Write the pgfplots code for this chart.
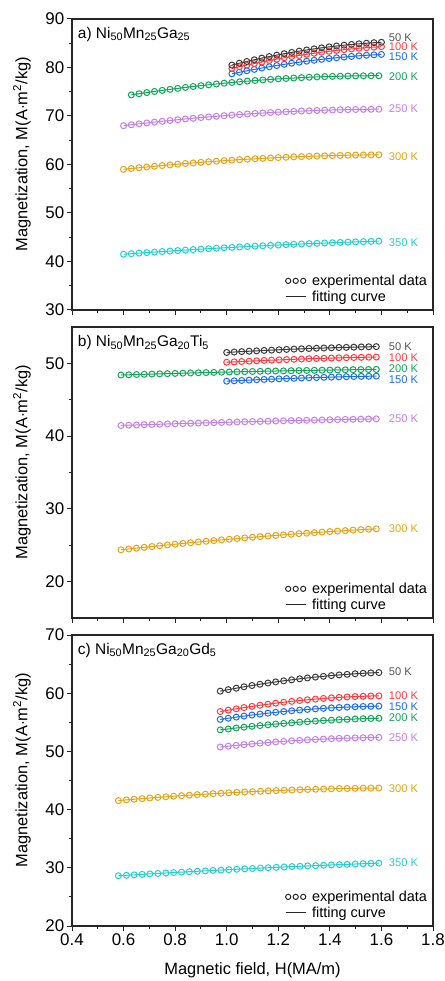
\documentclass[border=0pt]{standalone}
\usepackage{fontspec}
\setmainfont{Liberation Sans}
\usepackage{pgfplots}
\usepackage{pgfplotstable}
\pgfplotsset{compat=1.18}

\definecolor{c50}{HTML}{3C3C3C}
\definecolor{c100}{HTML}{FF3C3C}
\definecolor{c150}{HTML}{1C6FE0}
\definecolor{c200}{HTML}{12A65A}
\definecolor{c250}{HTML}{C57FE8}
\definecolor{c300}{HTML}{E5A416}
\definecolor{c350}{HTML}{26CFCF}
\definecolor{t50}{HTML}{555555}

\pgfplotstableread{
x m200 m250 m300 m350
0.60 nan 68.00 59.00 41.50
0.63 74.35 68.19 59.17 41.61
0.66 74.59 68.38 59.33 41.73
0.69 74.83 68.56 59.48 41.83
0.72 75.06 68.74 59.64 41.94
0.75 75.28 68.91 59.78 42.05
0.78 75.49 69.07 59.92 42.15
0.81 75.69 69.23 60.06 42.25
0.84 75.89 69.39 60.20 42.35
0.87 76.08 69.53 60.32 42.45
0.90 76.26 69.68 60.45 42.55
0.93 76.43 69.81 60.57 42.64
0.96 76.60 69.94 60.68 42.73
0.99 76.76 70.07 60.79 42.82
1.02 76.91 70.19 60.90 42.91
1.05 77.05 70.30 61.00 43.00
1.08 77.19 70.41 61.09 43.08
1.11 77.31 70.52 61.18 43.16
1.14 77.43 70.61 61.27 43.24
1.17 77.54 70.71 61.35 43.32
1.20 77.65 70.79 61.43 43.39
1.23 77.74 70.87 61.50 43.47
1.26 77.83 70.95 61.57 43.54
1.29 77.91 71.02 61.63 43.61
1.32 77.99 71.08 61.69 43.68
1.35 78.05 71.14 61.74 43.74
1.38 78.11 71.19 61.79 43.81
1.41 78.16 71.24 61.83 43.87
1.44 78.20 71.28 61.87 43.93
1.47 78.24 71.31 61.91 43.99
1.50 78.27 71.34 61.94 44.04
1.53 78.28 71.37 61.96 44.10
1.56 78.30 71.39 61.98 44.15
1.59 78.30 71.40 62.00 44.20
}\tabAlong

\pgfplotstableread{
x m50 m100 m150
1.020 80.50 79.80 78.70
1.049 80.88 80.15 79.01
1.078 81.24 80.49 79.32
1.107 81.59 80.82 79.61
1.136 81.93 81.13 79.88
1.165 82.25 81.43 80.15
1.194 82.55 81.72 80.40
1.223 82.84 81.99 80.65
1.252 83.11 82.25 80.88
1.281 83.37 82.49 81.09
1.310 83.61 82.73 81.30
1.339 83.84 82.94 81.49
1.368 84.05 83.15 81.68
1.397 84.25 83.34 81.85
1.426 84.43 83.52 82.00
1.455 84.60 83.68 82.15
1.484 84.75 83.83 82.28
1.513 84.88 83.97 82.41
1.542 85.00 84.09 82.52
1.571 85.11 84.20 82.61
1.600 85.20 84.30 82.70
}\tabAshort

\pgfplotstableread{
x m200 m250 m300
0.59 48.40 41.46 24.37
0.62 48.43 41.50 24.49
0.65 48.47 41.53 24.60
0.68 48.50 41.57 24.71
0.71 48.53 41.60 24.82
0.74 48.56 41.63 24.93
0.77 48.59 41.67 25.04
0.80 48.62 41.70 25.14
0.83 48.65 41.73 25.25
0.86 48.68 41.76 25.35
0.89 48.71 41.79 25.45
0.92 48.73 41.82 25.55
0.95 48.76 41.85 25.64
0.98 48.79 41.88 25.74
1.01 48.81 41.91 25.83
1.04 48.84 41.94 25.92
1.07 48.86 41.97 26.01
1.10 48.88 42.00 26.10
1.13 48.91 42.02 26.18
1.16 48.93 42.05 26.27
1.19 48.95 42.08 26.35
1.22 48.97 42.10 26.43
1.25 48.99 42.13 26.51
1.28 49.01 42.15 26.59
1.31 49.03 42.18 26.66
1.34 49.05 42.20 26.73
1.37 49.06 42.22 26.81
1.40 49.08 42.25 26.88
1.43 49.10 42.27 26.94
1.46 49.11 42.29 27.01
1.49 49.13 42.31 27.08
1.52 49.14 42.33 27.14
1.55 49.16 42.35 27.20
1.58 49.17 42.37 27.26
}\tabBlong

\pgfplotstableread{
x m50 m100 m150
1.000 51.50 50.15 47.55
1.029 51.56 50.20 47.60
1.058 51.62 50.25 47.65
1.087 51.67 50.30 47.70
1.116 51.72 50.35 47.75
1.145 51.78 50.40 47.79
1.174 51.82 50.44 47.83
1.203 51.87 50.48 47.87
1.232 51.92 50.52 47.91
1.261 51.96 50.56 47.95
1.290 52.00 50.60 47.99
1.319 52.04 50.64 48.02
1.348 52.08 50.67 48.05
1.377 52.11 50.70 48.08
1.406 52.14 50.73 48.11
1.435 52.18 50.76 48.14
1.464 52.20 50.78 48.17
1.493 52.23 50.81 48.19
1.522 52.26 50.83 48.21
1.551 52.28 50.85 48.23
1.580 52.30 50.87 48.25
}\tabBshort

\pgfplotstableread{
x m300 m350
0.580 41.55 28.63
0.611 41.67 28.71
0.641 41.78 28.79
0.672 41.89 28.87
0.702 42.00 28.95
0.733 42.10 29.03
0.764 42.20 29.11
0.794 42.30 29.18
0.825 42.39 29.26
0.855 42.48 29.33
0.886 42.57 29.40
0.917 42.65 29.47
0.947 42.74 29.55
0.978 42.81 29.61
1.008 42.89 29.68
1.039 42.96 29.75
1.070 43.03 29.82
1.100 43.09 29.88
1.131 43.16 29.95
1.161 43.22 30.01
1.192 43.27 30.08
1.223 43.32 30.14
1.253 43.37 30.20
1.284 43.42 30.26
1.314 43.46 30.32
1.345 43.50 30.37
1.376 43.54 30.43
1.406 43.57 30.49
1.437 43.61 30.54
1.467 43.63 30.59
1.498 43.66 30.65
1.529 43.68 30.70
1.559 43.70 30.75
1.590 43.71 30.80
}\tabClong

\pgfplotstableread{
x m50 m100 m150 m200 m250
0.975 60.35 56.85 55.50 53.70 50.75
1.006 60.61 57.09 55.70 53.86 50.90
1.037 60.86 57.31 55.89 54.02 51.03
1.067 61.10 57.53 56.07 54.17 51.17
1.098 61.32 57.74 56.25 54.31 51.29
1.129 61.54 57.93 56.41 54.44 51.41
1.160 61.75 58.11 56.57 54.57 51.52
1.190 61.94 58.29 56.71 54.70 51.63
1.221 62.13 58.45 56.85 54.81 51.73
1.252 62.30 58.60 56.98 54.92 51.82
1.283 62.47 58.74 57.10 55.03 51.91
1.313 62.62 58.87 57.21 55.12 51.98
1.344 62.77 58.99 57.31 55.21 52.06
1.375 62.90 59.10 57.40 55.30 52.12
1.406 63.03 59.19 57.48 55.37 52.18
1.436 63.14 59.28 57.55 55.44 52.24
1.467 63.24 59.36 57.62 55.51 52.28
1.498 63.34 59.42 57.67 55.57 52.32
1.529 63.42 59.47 57.72 55.62 52.35
1.559 63.49 59.52 57.75 55.66 52.38
1.590 63.55 59.55 57.78 55.70 52.40
}\tabCshort

\newcommand{\lab}{\fontsize{11.2}{12}\selectfont}

\pgfplotsset{
  panel/.style={
    width=361bp, height=291bp, scale only axis,
    xmin=0.4, xmax=1.8,
    xtick={0.4,0.6,0.8,1.0,1.2,1.4,1.6,1.8},
    minor x tick num=1, minor y tick num=1,
    tick align=outside, tick pos=left,
    major tick length=5bp, minor tick length=3bp,
    every tick/.style={black!85, line width=1bp},
    axis line style={line width=1.2bp, black!85},
    /pgf/number format/assume math mode=true,
    ticklabel style={font=\fontsize{17}{19}\selectfont, inner sep=2.5bp},
    label style={font=\fontsize{16.5}{19}\selectfont},
    ylabel={Magnetization, M(A$\cdot$m\textsuperscript{2}/kg)},
    ylabel style={at={(axis description cs:-0.139,0.535)}, anchor=center},
    clip=false,
  },
  ser/.style={line width=1bp, mark=o, mark size=3bp, mark options={line width=1bp, solid}},
  leg/.style={legend style={draw=none, fill=none, at={(rel axis cs:0.587,0.012)}, anchor=south west,
    font=\fontsize{14.5}{15}\selectfont, row sep=-1bp, inner sep=1bp,
    nodes={inner sep=2.5bp}},
    legend cell align=left},
}

\newcommand{\addleg}{%
  \addlegendimage{legend image code/.code={\draw[black!85,line width=1bp] (2.8bp,0) circle[radius=2.6bp] (10.3bp,0) circle[radius=2.6bp] (17.8bp,0) circle[radius=2.6bp]; \path (24bp,0);}}
  \addlegendentry{experimental data}
  \addlegendimage{legend image code/.code={\draw[black!85,line width=1bp] (0.3bp,0) -- (21bp,0); \path (24bp,0);}}
  \addlegendentry{fitting curve}
}

\begin{document}
\begin{tikzpicture}
\path[use as bounding box] (0,0) rectangle (445bp,981bp);

% Panel a
\begin{axis}[panel, leg, at={(72bp,671bp)}, anchor=south west,
  ymin=30, ymax=90, ytick={30,40,50,60,70,80,90}, xticklabels={}]
\addleg
\addplot[ser, c200, forget plot] table[x=x,y=m200]{\tabAlong};
\addplot[ser, c250, forget plot] table[x=x,y=m250]{\tabAlong};
\addplot[ser, c300, forget plot] table[x=x,y=m300]{\tabAlong};
\addplot[ser, c350, forget plot] table[x=x,y=m350]{\tabAlong};
\addplot[ser, c150, forget plot] table[x=x,y=m150]{\tabAshort};
\addplot[ser, c100, forget plot] table[x=x,y=m100]{\tabAshort};
\addplot[ser, c50, forget plot] table[x=x,y=m50]{\tabAshort};
\node[anchor=west, inner sep=0, font=\fontsize{15.5}{16}\selectfont] at (rel axis cs:0.016,0.948) {a) Ni\textsubscript{50}Mn\textsubscript{25}Ga\textsubscript{25}};
\node[anchor=west, inner sep=0, text=t50, font=\lab] at (axis cs:1.628,86.2) {50 K};
\node[anchor=west, inner sep=0, text=c100, font=\lab] at (axis cs:1.628,84.2) {100 K};
\node[anchor=west, inner sep=0, text=c150, font=\lab] at (axis cs:1.628,82.2) {150 K};
\node[anchor=west, inner sep=0, text=c200, font=\lab] at (axis cs:1.628,78.2) {200 K};
\node[anchor=west, inner sep=0, text=c250, font=\lab] at (axis cs:1.628,71.5) {250 K};
\node[anchor=west, inner sep=0, text=c300, font=\lab] at (axis cs:1.628,61.6) {300 K};
\node[anchor=west, inner sep=0, text=c350, font=\lab] at (axis cs:1.628,43.8) {350 K};
\end{axis}

% Panel b
\begin{axis}[panel, leg, at={(72bp,363bp)}, anchor=south west,
  ymin=15, ymax=55, ytick={20,30,40,50}, xticklabels={}]
\addleg
\addplot[ser, c200, forget plot] table[x=x,y=m200]{\tabBlong};
\addplot[ser, c250, forget plot] table[x=x,y=m250]{\tabBlong};
\addplot[ser, c300, forget plot] table[x=x,y=m300]{\tabBlong};
\addplot[ser, c150, forget plot] table[x=x,y=m150]{\tabBshort};
\addplot[ser, c100, forget plot] table[x=x,y=m100]{\tabBshort};
\addplot[ser, c50, forget plot] table[x=x,y=m50]{\tabBshort};
\node[anchor=west, inner sep=0, font=\fontsize{15.5}{16}\selectfont] at (rel axis cs:0.016,0.945) {b) Ni\textsubscript{50}Mn\textsubscript{25}Ga\textsubscript{20}Ti\textsubscript{5}};
\node[anchor=west, inner sep=0, text=t50, font=\lab] at (axis cs:1.628,52.3) {50 K};
\node[anchor=west, inner sep=0, text=c100, font=\lab] at (axis cs:1.628,50.8) {100 K};
\node[anchor=west, inner sep=0, text=c200, font=\lab] at (axis cs:1.628,49.3) {200 K};
\node[anchor=west, inner sep=0, text=c150, font=\lab] at (axis cs:1.628,47.8) {150 K};
\node[anchor=west, inner sep=0, text=c250, font=\lab] at (axis cs:1.628,42.4) {250 K};
\node[anchor=west, inner sep=0, text=c300, font=\lab] at (axis cs:1.628,27.3) {300 K};
\end{axis}

% Panel c
\begin{axis}[panel, leg, at={(72bp,55bp)}, anchor=south west,
  ymin=20, ymax=70, ytick={20,30,40,50,60,70},
  xticklabel style={/pgf/number format/.cd, fixed, fixed zerofill, precision=1},
  xlabel={Magnetic field, H(MA/m)},
  xlabel style={at={(axis description cs:0.5,-0.151)}, anchor=center}]
\addleg
\addplot[ser, c300, forget plot] table[x=x,y=m300]{\tabClong};
\addplot[ser, c350, forget plot] table[x=x,y=m350]{\tabClong};
\addplot[ser, c250, forget plot] table[x=x,y=m250]{\tabCshort};
\addplot[ser, c200, forget plot] table[x=x,y=m200]{\tabCshort};
\addplot[ser, c150, forget plot] table[x=x,y=m150]{\tabCshort};
\addplot[ser, c100, forget plot] table[x=x,y=m100]{\tabCshort};
\addplot[ser, c50, forget plot] table[x=x,y=m50]{\tabCshort};
\node[anchor=west, inner sep=0, font=\fontsize{15.5}{16}\selectfont] at (rel axis cs:0.016,0.948) {c) Ni\textsubscript{50}Mn\textsubscript{25}Ga\textsubscript{20}Gd\textsubscript{5}};
\node[anchor=west, inner sep=0, text=t50, font=\lab] at (axis cs:1.628,63.66) {50 K};
\node[anchor=west, inner sep=0, text=c100, font=\lab] at (axis cs:1.628,59.66) {100 K};
\node[anchor=west, inner sep=0, text=c150, font=\lab] at (axis cs:1.628,57.77) {150 K};
\node[anchor=west, inner sep=0, text=c200, font=\lab] at (axis cs:1.628,55.77) {200 K};
\node[anchor=west, inner sep=0, text=c250, font=\lab] at (axis cs:1.628,52.4) {250 K};
\node[anchor=west, inner sep=0, text=c300, font=\lab] at (axis cs:1.628,43.66) {300 K};
\node[anchor=west, inner sep=0, text=c350, font=\lab] at (axis cs:1.628,30.8) {350 K};
\end{axis}
\end{tikzpicture}
\end{document}
